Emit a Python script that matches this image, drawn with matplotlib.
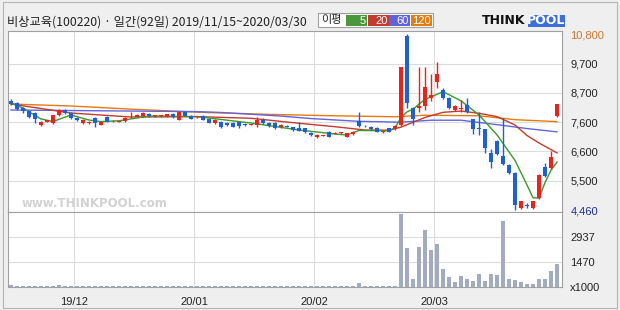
import numpy as np
import matplotlib
matplotlib.use("Agg")
import matplotlib.pyplot as plt
from matplotlib.patches import Rectangle

plt.rcParams['font.family'] = ['Noto Sans CJK KR', 'DejaVu Sans']

# daily candles, 2019/11/15 ~ 2020/03/30 (92 trading days)
opens = [8405, 8320, 8140, 8030, 7960, 7530, 7640, 7600, 7890, 8070,
         7960, 7780, 7600, 7600, 7780, 7530, 7815, 7655, 7650, 7670,
         7800, 7815, 7852, 7924, 7850, 7845, 7815, 7930, 7720, 8000,
         7860, 7810, 7870, 7733, 7590, 7645, 7615, 7590, 7625, 7560,
         7530, 7527, 7725, 7600, 7590, 7445, 7480, 7445, 7430, 7410,
         7250, 7085, 7140, 7285, 7220, 7245, 7105, 7203, 7670, 7500,
         7465, 7430, 7270, 7410, 7385, 7527, 10750, 8140, 8130, 8213,
         8512, 9090, 8790, 8512, 8069, 8120, 8250, 7733, 7400, 7373,
         6505, 6950, 6410, 6084, 5806, 4543, 4620, 4543, 4883, 6000,
         5986, 7862]
highs = [8450, 8350, 8170, 8050, 7990, 7660, 7720, 7900, 8090, 8100,
         7980, 7800, 7730, 7660, 7800, 7660, 7840, 7700, 7690, 7800,
         7997, 7910, 7980, 7950, 7890, 7890, 7940, 7950, 8000, 8030,
         7880, 7850, 7900, 7760, 7730, 7670, 7640, 7620, 7650, 7590,
         7570, 7800, 7790, 7630, 7620, 7560, 7510, 7470, 7645, 7430,
         7280, 7190, 7180, 7310, 7270, 7290, 7250, 7310, 8010, 7520,
         7490, 7450, 7310, 7430, 7520, 9631, 10800, 8170, 9631, 9631,
         9357, 9811, 8863, 8540, 8260, 8430, 8512, 7760, 8010, 7400,
         6660, 6990, 7770, 6110, 5830, 4800, 4700, 4800, 5760, 6145,
         6590, 8300]
lows = [8250, 8070, 7960, 7790, 7600, 7500, 7620, 7580, 7870, 7940,
        7760, 7690, 7580, 7580, 7455, 7510, 7620, 7630, 7630, 7650,
        7780, 7800, 7830, 7830, 7830, 7830, 7800, 7790, 7700, 7840,
        7740, 7790, 7700, 7590, 7570, 7430, 7490, 7450, 7405, 7490,
        7510, 7440, 7580, 7460, 7390, 7420, 7440, 7320, 7300, 7240,
        7140, 7060, 7120, 7080, 7200, 7220, 7080, 7180, 7450, 7450,
        7360, 7260, 7250, 7260, 7360, 7490, 8140, 7527, 7985, 8069,
        8394, 8873, 8480, 8100, 8040, 8010, 7950, 7190, 7165, 6505,
        5965, 6440, 6080, 5750, 4460, 4510, 4520, 4510, 4860, 5650,
        5950, 7800]
closes = [8285, 8105, 8030, 7815, 7745, 7636, 7700, 7890, 8070, 7960,
          7780, 7710, 7710, 7636, 7600, 7636, 7636, 7675, 7670, 7780,
          7820, 7890, 7960, 7852, 7870, 7865, 7924, 7800, 7985, 7860,
          7760, 7830, 7725, 7610, 7708, 7455, 7510, 7470, 7500, 7510,
          7550, 7725, 7600, 7480, 7410, 7530, 7460, 7347, 7320, 7265,
          7165, 7165, 7160, 7105, 7240, 7265, 7225, 7285, 7500, 7475,
          7380, 7285, 7290, 7285, 7500, 9631, 8310, 7755, 8213, 8910,
          8610, 9357, 8512, 8130, 8225, 8140, 7985, 7373, 7380, 6710,
          6200, 6470, 6110, 5785, 4641, 4785, 4600, 4785, 5724, 5687,
          6362, 8285]
volumes = [95, 80, 70, 85, 60, 75, 50, 65, 90, 70,
           55, 45, 60, 50, 75, 55, 60, 40, 45, 55,
           70, 50, 60, 45, 40, 35, 55, 50, 85, 60,
           45, 40, 50, 55, 45, 60, 50, 40, 55, 45,
           40, 65, 50, 40, 60, 45, 40, 50, 70, 55,
           60, 45, 40, 55, 40, 35, 45, 50, 252, 70,
           60, 55, 45, 50, 65,
           4285, 2272, 470, 2330, 3346, 2172, 2524, 1057, 569, 276,
           646, 470, 352, 763, 352, 763, 687, 3874, 470, 411,
           311, 176, 176, 470, 470, 957, 1350]

# moving average lines (day index, price)
ma5_idx = [0, 2, 5, 7, 10, 13, 15, 18, 23, 31, 40, 48, 54, 56, 58, 63, 64, 65, 66, 67,
           68, 69, 72, 75, 78, 81, 84, 86, 87, 88, 89, 90, 91]
ma5_val = [8320, 8140, 7745, 7655, 7890, 7708, 7650, 7680, 7850, 7830, 7600, 7347, 7203,
           7167, 7330, 7320, 7420, 7800, 8000, 8100, 8280, 8450, 8730, 8400, 7890, 7170,
           6250, 5363, 4900, 4890, 5450, 5900, 6190]
ma20_idx = [0, 10, 20, 31, 40, 48, 54, 59, 63, 65, 69, 72, 75, 78, 81, 84, 86, 88, 91]
ma20_val = [8285, 7960, 7816, 7830, 7770, 7590, 7466, 7347, 7340, 7450, 7800, 7985, 8030,
            7950, 7830, 7527, 7150, 6880, 6520]
ma60_idx = [0, 31, 35, 45, 50, 58, 65, 70, 75, 81, 86, 91]
ma60_val = [8069, 8010, 7980, 7850, 7760, 7660, 7630, 7700, 7700, 7540, 7400, 7280]
ma120_idx = [0, 10, 20, 31, 43, 54, 64, 69, 78, 84, 91]
ma120_val = [8285, 8213, 8100, 7990, 7910, 7860, 7825, 7880, 7860, 7720, 7650]

price_ticks = [10800, 9743, 8687, 7630, 6573, 5517, 4460]
price_labels = ['10,800', '9,700', '8,700', '7,600', '6,600', '5,500', '4,460']
vol_ticks = [0, 1470, 2937]
vol_labels = ['x1000', '1470', '2937']
month_pos = [10.5, 30.5, 50.5, 70.5]
month_labels = ['19/12', '20/01', '20/02', '20/03']
title = '비상교육(100220) · 일간(92일) 2019/11/15~2020/03/30'

W, H = 620, 310
def fx(px): return px / W
def fy(py): return 1 - py / H

fig = plt.figure(figsize=(6.2, 3.1), dpi=100, facecolor='#efefef')
ax = fig.add_axes([fx(8), fy(212), fx(554), 181 / H])
axv = fig.add_axes([fx(8), fy(287), fx(554), 75 / H])

o = np.array(opens); c = np.array(closes)
x = np.arange(len(opens))
up_col, dn_col = '#e8231d', '#1f5fd6'
cols = [up_col if cc >= oo else dn_col for oo, cc in zip(o, c)]

grid_c = '#dcdcdc'
for v in price_ticks[1:-1]:
    ax.axhline(v, color=grid_c, lw=0.8, zorder=0)
for gx in month_pos:
    ax.axvline(gx, color=grid_c, lw=0.8, zorder=0)
    axv.axvline(gx, color=grid_c, lw=0.8, zorder=0)
for v in vol_ticks[1:]:
    axv.axhline(v, color=grid_c, lw=0.8, zorder=0)

ax.plot(ma120_idx, ma120_val, color='#e47a10', lw=1, zorder=2)
ax.plot(ma60_idx, ma60_val, color='#6464e0', lw=1, zorder=2)
ax.plot(ma20_idx, ma20_val, color='#c23a30', lw=1, zorder=2)
ax.plot(ma5_idx, ma5_val, color='#3a9a2a', lw=1, zorder=2)

ax.vlines(x, lows, highs, colors=cols, lw=1, zorder=3)
ax.bar(x, np.maximum(np.abs(c - o), 30), bottom=np.minimum(o, c), width=0.72,
       color=cols, lw=0, zorder=4)

axv.bar(x, volumes, width=0.72, color='#a3abbf', lw=0, zorder=2)

for a in (ax, axv):
    a.set_xlim(-0.5, 91.83)
    a.set_facecolor('white')
    for s in a.spines.values():
        s.set_color('#a0a0a0')
        s.set_linewidth(0.8)
    a.yaxis.tick_right()
    a.tick_params(axis='both', length=0, labelsize=8, colors='#222222')

ax.set_ylim(4389, 10919)
ax.set_yticks(price_ticks)
ax.set_yticklabels(price_labels, family='Liberation Sans')
ax.tick_params(axis='y', pad=6)
tl = ax.get_yticklabels()
tl[0].set_color('#c8772e')
tl[-1].set_color('#1f2fa0')
ax.set_xticks([])

axv.set_ylim(0, 4405)
axv.set_yticks(vol_ticks)
axv.set_yticklabels(vol_labels, family='Liberation Sans')
axv.tick_params(axis='y', pad=6)
axv.set_xticks(month_pos)
axv.set_xticklabels(month_labels, family='Liberation Sans')
axv.tick_params(axis='x', pad=7)

# watermark
ax.text(0.025, 0.025, 'www.THINKPOOL.com', transform=ax.transAxes, fontsize=8.5,
        fontweight='bold', color='#d2d2d2', family='DejaVu Sans', zorder=1)

# title and legend strip
fig.text(fx(7), fy(22), title, fontsize=8.8, va='center', color='#222222')
fig.add_artist(Rectangle((fx(318), fy(27)), fx(115), 14 / H, transform=fig.transFigure,
                         facecolor='white', edgecolor='#a0a0a0', lw=0.8))
fig.text(fx(321), fy(20.5), '이평', fontsize=8, va='center', color='#222222')
leg = [('5', '#4a983a', 346), ('20', '#c43a30', 368), ('60', '#6262d8', 389), ('120', '#e07c12', 411)]
for lab, col, x0 in leg:
    fig.add_artist(Rectangle((fx(x0), fy(26)), fx(21), 11 / H, transform=fig.transFigure,
                             facecolor=col, edgecolor='none'))
    fig.text(fx(x0 + 20), fy(20.5), lab, fontsize=8, va='center', ha='right', color='white',
             family='Liberation Sans')

# logo
fig.text(fx(482), fy(21), 'THINK', fontsize=9, fontweight='bold', va='center',
         color='#111111', family='DejaVu Sans')
fig.add_artist(Rectangle((fx(528), fy(27)), fx(37), 12 / H, transform=fig.transFigure,
                         facecolor='#3c6fdc', edgecolor='none'))
fig.text(fx(546.5), fy(21), 'POOL', fontsize=9, fontweight='bold', va='center', ha='center',
         color='white', family='DejaVu Sans')

fig.add_artist(Rectangle((fx(3), fy(308)), fx(614), 306 / H, transform=fig.transFigure,
                         facecolor='none', edgecolor='#b4b4b4', lw=0.8))

fig.savefig('out.png', dpi=100, facecolor=fig.get_facecolor())
